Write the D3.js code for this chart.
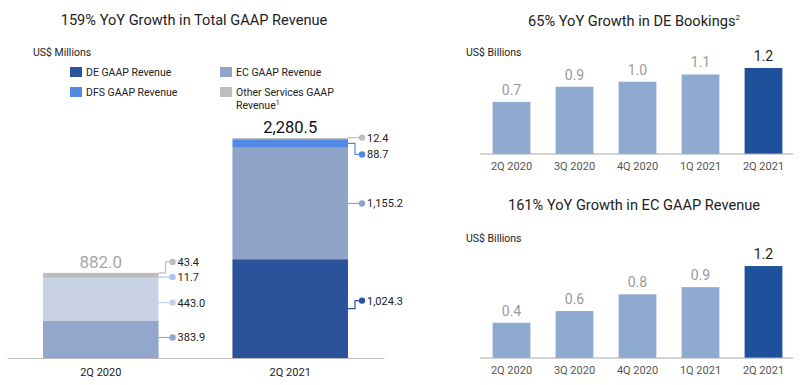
<!DOCTYPE html>
<html><head><meta charset="utf-8">
<script src="https://cdn.jsdelivr.net/npm/d3@7"></script>
<style>
body{margin:0;background:#fff;}
svg{font-family:Roboto,"Open Sans",sans-serif;display:block;}
</style></head>
<body>
<svg id="c" width="810" height="385"></svg>
<script>
// ---- data ----
const revPeriods = ["2Q 2020", "2Q 2021"];
const revSeries = ["DE GAAP Revenue", "EC GAAP Revenue", "DFS GAAP Revenue", "Other Services GAAP Revenue"];
const deRevenue = [383.9, 1024.3];
const ecRevenue = [443.0, 1155.2];
const dfsRevenue = [11.7, 88.7];
const otherRevenue = [43.4, 12.4];
const revTotals = [882.0, 2280.5];

const quarters = ["2Q 2020", "3Q 2020", "4Q 2020", "1Q 2021", "2Q 2021"];
const deBookings = [0.72, 0.93, 1.00, 1.10, 1.19];
const ecRevenueQ = [0.443, 0.59, 0.80, 0.89, 1.155];

// ---- styles ----
const colors2021 = ["#2b539b", "#90a4c8", "#5289e4", "#bdbdbd"];
const colors2020 = ["#93a7cd", "#c9d2e4", "#a8c4f0", "#bcbcbc"];
const svg = d3.select("#c");
const fmt = d3.format(",.1f");
const titleSize = 14.6;

// ---- left chart ----
const baseL = 358;
const xL = d3.scaleBand().domain(revPeriods).range([7, 384]).paddingInner(0.39).paddingOuter(0.19);
const yL = d3.scaleLinear().domain([0, 2280.5]).range([baseL, 138]);

svg.append("text").attr("x", 194).attr("y", 25).attr("text-anchor", "middle")
  .attr("font-size", titleSize).attr("fill", "#222").text("159% YoY Growth in Total GAAP Revenue");
svg.append("text").attr("x", 33).attr("y", 56).attr("font-size", 10.5).attr("fill", "#222").text("US$ Millions");

// legend
const legPos = [[70, 67], [220, 67], [70, 87], [220, 87]];
[0, 1, 2, 3].forEach((si, i) => {
  const [lx, ly] = legPos[i];
  svg.append("rect").attr("x", lx).attr("y", ly).attr("width", 12).attr("height", 10).attr("fill", colors2021[si]);
  if (si === 3) {
    svg.append("text").attr("x", lx + 16).attr("y", ly + 9).attr("font-size", 10.5).attr("fill", "#222").text("Other Services GAAP");
    const t2 = svg.append("text").attr("x", lx + 16).attr("y", ly + 22).attr("font-size", 10.5).attr("fill", "#222");
    t2.append("tspan").text("Revenue");
    t2.append("tspan").attr("font-size", 7).attr("dy", -4).text("1");
  } else {
    svg.append("text").attr("x", lx + 16).attr("y", ly + 9).attr("font-size", 10.5).attr("fill", "#222").text(revSeries[si]);
  }
});

const seriesVals = [deRevenue, ecRevenue, dfsRevenue, otherRevenue];
const stackData = revPeriods.map((p, i) => {
  const o = {period: p};
  revSeries.forEach((s, si) => o[s] = seriesVals[si][i]);
  return o;
});
const stacked = d3.stack().keys(revSeries)(stackData);

// label layout offsets (px) per period per series
const lblOffset = [[-2, 3, 0, -11], [-8, 0, 11, -1]];
const lblAnchorFrac = [[0.5, 0.5, 1, 1], [0.5, 0.5, 0.5, 0.5]];

stacked.forEach((layer, si) => {
  layer.forEach((d, pi) => {
    const cols = pi === 0 ? colors2020 : colors2021;
    svg.append("rect").attr("x", xL(revPeriods[pi])).attr("y", yL(d[1])).attr("width", xL.bandwidth())
      .attr("height", yL(d[0]) - yL(d[1])).attr("fill", cols[si]);
  });
});

stacked.forEach((layer, si) => {
  layer.forEach((d, pi) => {
    const cols = pi === 0 ? colors2020 : colors2021;
    const x0 = xL(revPeriods[pi]), bw = xL.bandwidth();
    const ySeg = yL(d[0] + (d[1] - d[0]) * lblAnchorFrac[pi][si]);
    const yLbl = ySeg + lblOffset[pi][si];
    const dotX = x0 + bw + 14;
    const startX = (pi === 1 && si === 0) ? x0 + bw * 0.74 : x0 + bw;
    const elbowX = x0 + bw + 7;
    const path = Math.abs(yLbl - ySeg) > 3.5
      ? `M${startX},${ySeg}H${elbowX}V${yLbl}H${dotX}`
      : `M${startX},${yLbl}H${dotX}`;
    svg.append("path").attr("d", path).attr("fill", "none").attr("stroke", cols[si]).attr("stroke-width", 1.2);
    svg.append("circle").attr("cx", dotX).attr("cy", yLbl).attr("r", 3.2).attr("fill", cols[si]);
    svg.append("text").attr("x", dotX + 5).attr("y", yLbl + 4).attr("font-size", 11).attr("fill", "#222")
      .text(fmt(seriesVals[si][pi]));
  });
});

// totals
revPeriods.forEach((p, i) => {
  svg.append("text").attr("x", xL(p) + xL.bandwidth() / 2).attr("y", yL(revTotals[i]) - 5)
    .attr("text-anchor", "middle").attr("font-size", i === 0 ? 17 : 16.5)
    .attr("fill", i === 0 ? "#a6a6a6" : "#111").text(fmt(revTotals[i]));
});

const axL = svg.append("g").attr("transform", `translate(0,${baseL})`).call(d3.axisBottom(xL).tickSize(0).tickPadding(10));
axL.select(".domain").attr("stroke", "#bbb").attr("stroke-width", 1.2);
axL.selectAll("text").attr("font-size", 11).attr("fill", "#222").attr("font-family", "Roboto, sans-serif");

// ---- right charts ----
function smallChart(opts) {
  const {title, sup, titleY, unitY, base, data, scalePx} = opts;
  const x = d3.scaleBand().domain(quarters).range([480, 795]).paddingInner(0.4).paddingOuter(0.2);
  const y = d3.scaleLinear().domain([0, 1]).range([base, base - scalePx]);
  const t = svg.append("text").attr("x", 634).attr("y", titleY).attr("text-anchor", "middle")
    .attr("font-size", titleSize).attr("fill", "#222");
  t.append("tspan").text(title);
  if (sup) t.append("tspan").attr("font-size", 8).attr("dy", -6).text(sup);
  svg.append("text").attr("x", 466).attr("y", unitY).attr("font-size", 10.5).attr("fill", "#222").text("US$ Billions");
  const last = quarters.length - 1;
  svg.selectAll(null).data(data).enter().append("rect")
    .attr("x", (d, i) => x(quarters[i])).attr("width", x.bandwidth())
    .attr("y", d => y(d)).attr("height", d => base - y(d))
    .attr("fill", (d, i) => i === last ? "#1f509c" : "#8faad1");
  svg.selectAll(null).data(data).enter().append("text")
    .attr("x", (d, i) => x(quarters[i]) + x.bandwidth() / 2).attr("y", d => y(d) - 7)
    .attr("text-anchor", "middle").attr("font-size", 14)
    .attr("fill", (d, i) => i === last ? "#222" : "#9a9a9a").text(d => d3.format(".1f")(d));
  const ax = svg.append("g").attr("transform", `translate(0,${base})`).call(d3.axisBottom(x).tickSize(0).tickPadding(8));
  ax.select(".domain").attr("stroke", "#aaa").attr("stroke-width", 1.2).attr("d", "M480,0H793");
  ax.selectAll("text").attr("font-size", 11).attr("fill", "#555").attr("font-family", "Roboto, sans-serif");
}
smallChart({title: "65% YoY Growth in DE Bookings", sup: "2", titleY: 26, unitY: 56, base: 154, data: deBookings, scalePx: 72.3});
smallChart({title: "161% YoY Growth in EC GAAP Revenue", sup: null, titleY: 210, unitY: 242, base: 358, data: ecRevenueQ, scalePx: 79.6});
</script>
</body></html>
